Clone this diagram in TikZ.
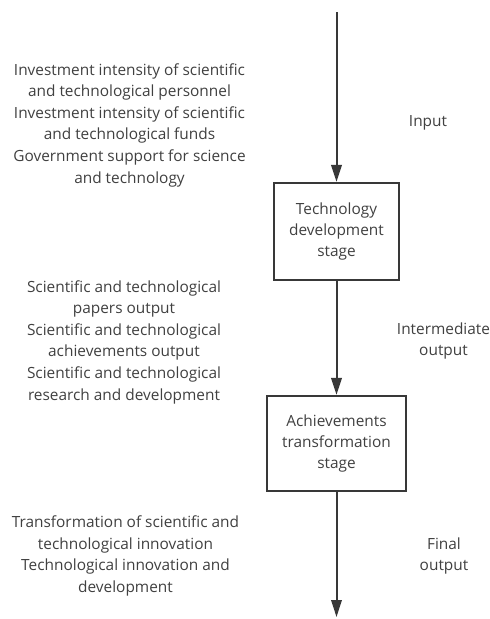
\documentclass[tikz,border=0pt]{standalone}
\usepackage{fontspec}
\setmainfont{Open Sans}
\usetikzlibrary{arrows.meta}

\definecolor{ink}{HTML}{383838}
\definecolor{txt}{HTML}{404040}

\tikzstyle{stage}    = [draw=ink,line width=2.2pt,align=center,text=txt,inner sep=0pt,font=\fontsize{15.4}{21}\selectfont]
\tikzstyle{flow}     = [draw=ink,line width=2pt,-{Triangle[length=17pt,width=10.5pt]}]
\tikzstyle{measures} = [align=center,text=txt,font=\fontsize{15.4}{21.6}\selectfont]
\tikzstyle{phase}    = [align=center,text=txt,font=\fontsize{15.4}{20.5}\selectfont]

\begin{document}
\begin{tikzpicture}[x=1pt,y=-1pt]
\useasboundingbox (0,0) rectangle (490,619);
% Draw the two stages
\node[stage,minimum width=125pt,minimum height=97pt] (develop) at (336.5,231.5) {Technology\\development\\stage};
\node[stage,minimum width=139pt,minimum height=95pt] (transform) at (336.5,443.5) {Achievements\\transformation\\stage};
% Free ends of the main flow
\coordinate (start) at (336.5,12);
\coordinate (finish) at (336.5,617);
% Draw the flow through the stages
\draw[flow] (start) -- (develop);
\draw[flow] (develop) -- (transform);
\draw[flow] (transform) -- (finish);
% Draw the indicators on the left
\node[measures] (inputs) at (129.5,125) {Investment intensity of scientific\\and technological personnel\\Investment intensity of scientific\\and technological funds\\Government support for science\\and technology};
\node[measures] (middle) at (124,342) {Scientific and technological\\papers output\\Scientific and technological\\achievements output\\Scientific and technological\\research and development};
\node[measures] (outputs) at (125.5,556) {Transformation of scientific and\\technological innovation\\Technological innovation and\\development};
% Draw the phase labels on the right
\node[phase] (input) at (428,123) {Input};
\node[phase] (intermediate) at (443.5,341) {Intermediate\\output};
\node[phase] (final) at (444,556) {Final\\output};
\end{tikzpicture}
\end{document}
